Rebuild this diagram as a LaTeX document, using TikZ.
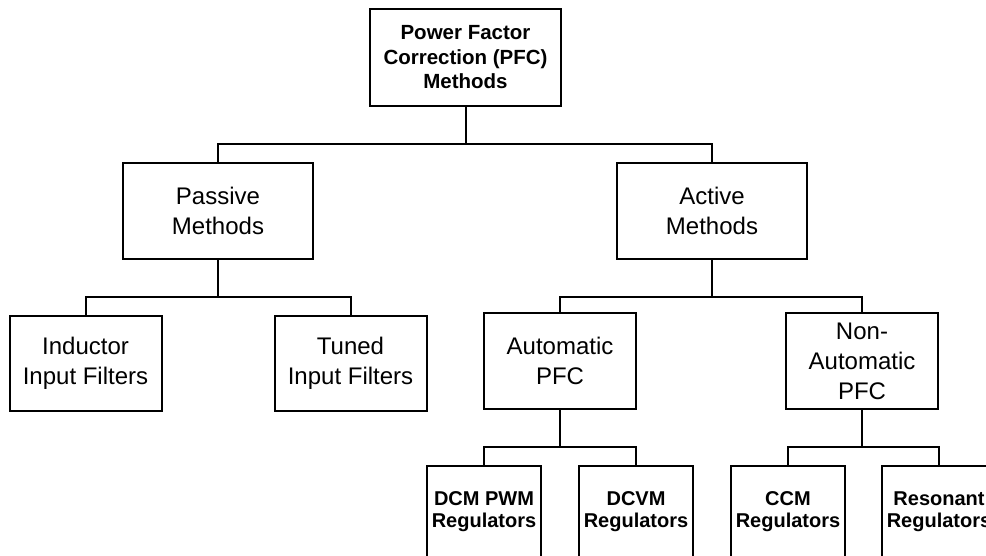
\documentclass[tikz,border=0pt]{standalone}
\usepackage{fontspec}
\setmainfont{Liberation Sans}
\usetikzlibrary{positioning}

\begin{document}
\begin{tikzpicture}[
  x=1pt, y=-1pt,
  line width=2pt,
  every node/.style={draw, align=center, inner sep=0pt, outer sep=0pt},
  rootbox/.style={minimum width=191pt, minimum height=97pt, font=\fontsize{20.5}{24.5}\selectfont\bfseries},
  methodbox/.style={minimum width=190pt, minimum height=96pt, font=\fontsize{24}{30}\selectfont},
  typebox/.style={minimum width=152pt, minimum height=95pt, font=\fontsize{24}{30}\selectfont},
  leafbox/.style={minimum width=114pt, minimum height=92pt, font=\fontsize{20}{22}\selectfont\bfseries}
]
\useasboundingbox (0,0) rectangle (986,556);
\clip (0,0) rectangle (986,556);
% top of the tree
\node[rootbox] (pfc) at (465.5,57.5) {Power Factor\\Correction (PFC)\\Methods};
\node[methodbox] (passive) at (218,211) {Passive\\Methods};
\node[methodbox, right=304pt of passive] (active) {Active\\Methods};
% second level
\node[typebox] (inductor) at (85.5,363.5) {Inductor\\Input Filters};
\node[typebox, right=113pt of inductor] (tuned) {Tuned\\Input Filters};
\node[typebox] (auto) at (560,361) {Automatic\\PFC};
\node[typebox, right=150pt of auto] (nonauto) {Non-\\Automatic\\PFC};
% regulators (cut off at the bottom)
\node[leafbox] (dcm) at (484,512) {DCM PWM\\Regulators};
\node[leafbox, right=38pt of dcm] (dcvm) {DCVM\\Regulators};
\node[leafbox, right=38pt of dcvm] (ccm) {CCM\\Regulators};
\node[leafbox, right=37pt of ccm] (reson) {Resonant\\Regulators};
\foreach \a/\b in {pfc/passive,pfc/active,passive/inductor,passive/tuned,active/auto,active/nonauto,auto/dcm,auto/dcvm,nonauto/ccm,nonauto/reson}{\draw (\a.south) -- ++(0,38) -| (\b.north);}
\end{tikzpicture}
\end{document}
